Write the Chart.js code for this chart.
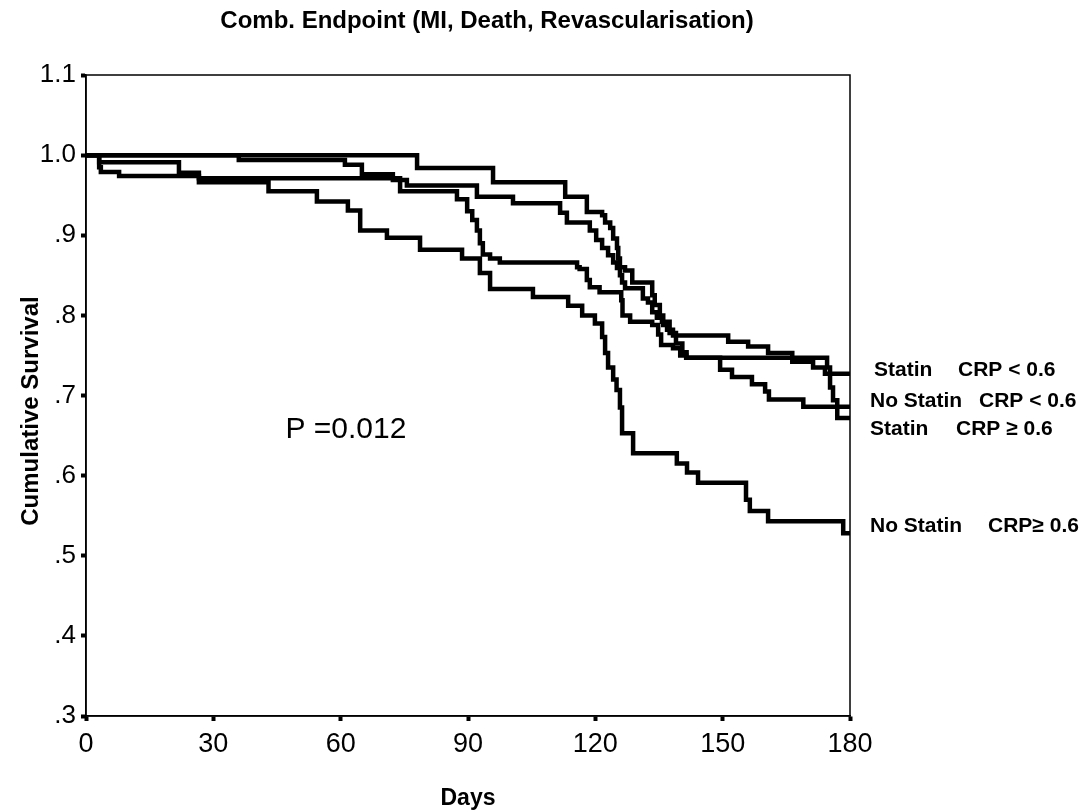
<!DOCTYPE html>
<html>
<head>
<meta charset="utf-8">
<script src="https://cdn.jsdelivr.net/npm/chart.js@4.4.1/dist/chart.umd.min.js"></script>
<style>
  html, body { margin: 0; padding: 0; background: #fff; }
  canvas { display: block; }
</style>
</head>
<body>
<canvas id="km" width="1089" height="812"></canvas>
<script>
// ── 데이터 (Kaplan-Meier 계단 곡선: 시점, 누적 생존율) ─────────────
const statinLowDays  = [0, 78, 95.9, 112.9, 118, 121.6, 122.3, 123.5, 124.2, 125.1, 125.4, 125.8, 127, 128.7, 133.4, 134, 135.2, 136, 136.9, 138.3, 151.3, 156, 160.7, 166.4, 171.3, 174.1, 180];
const statinLowSurv  = [1.0, 0.984, 0.966, 0.948, 0.929, 0.925, 0.916, 0.909, 0.896, 0.884, 0.871, 0.86, 0.856, 0.841, 0.825, 0.813, 0.80, 0.788, 0.782, 0.775, 0.767, 0.761, 0.753, 0.742, 0.735, 0.727, 0.727];

const statinHighDays = [0, 36, 61, 65, 72.3, 75.6, 92.1, 100.6, 111.7, 113.3, 118.7, 120.2, 121.6, 123, 124.2, 125.1, 125.8, 126.3, 127, 131.2, 132.4, 133.4, 134.5, 135.7, 137.5, 139, 140.5, 141.5, 174.6, 175.3, 176, 177, 180];
const statinHighSurv = [1.0, 0.994, 0.988, 0.976, 0.969, 0.962, 0.948, 0.94, 0.928, 0.916, 0.906, 0.894, 0.884, 0.875, 0.866, 0.859, 0.85, 0.841, 0.834, 0.821, 0.816, 0.804, 0.797, 0.792, 0.778, 0.765, 0.754, 0.747, 0.735, 0.71, 0.694, 0.672, 0.672];

const noStatinLowDays  = [0, 3.1, 21.9, 26.6, 74, 87.4, 89.8, 91, 92.1, 92.8, 93.5, 95.2, 97.5, 115.7, 116.3, 118, 118.7, 121, 126.1, 126.4, 128.2, 133.4, 134.8, 135.5, 138.3, 140, 141.4, 149.4, 152.2, 156.9, 160, 160.9, 169, 180];
const noStatinLowSurv  = [1.0, 0.991, 0.978, 0.971, 0.955, 0.945, 0.93, 0.919, 0.906, 0.89, 0.876, 0.871, 0.866, 0.86, 0.858, 0.844, 0.835, 0.829, 0.819, 0.80, 0.792, 0.788, 0.776, 0.763, 0.759, 0.75, 0.747, 0.732, 0.723, 0.714, 0.705, 0.695, 0.686, 0.686];

const noStatinHighDays = [0, 3.1, 3.5, 7.8, 26.6, 43, 54.4, 61.7, 64.6, 70.9, 78.7, 88.6, 92.8, 95.2, 105.3, 113.6, 116.9, 119.9, 121.6, 122.3, 123, 124.2, 125, 125.8, 126.3, 128.9, 139.2, 141.6, 144.2, 155.5, 156.4, 160.7, 178.4, 180];
const noStatinHighSurv = [1.0, 0.985, 0.979, 0.974, 0.966, 0.955, 0.942, 0.931, 0.906, 0.897, 0.882, 0.871, 0.853, 0.833, 0.823, 0.812, 0.80, 0.79, 0.773, 0.753, 0.735, 0.72, 0.707, 0.685, 0.653, 0.628, 0.615, 0.604, 0.591, 0.57, 0.556, 0.543, 0.528, 0.528];

const seriesNames  = ["Statin    CRP < 0.6", "Statin    CRP ≥ 0.6", "No Statin  CRP < 0.6", "No Statin   CRP≥ 0.6"];
const xTickValues  = [0, 30, 60, 90, 120, 150, 180];
const yTickLabels  = [".3", ".4", ".5", ".6", ".7", ".8", ".9", "1.0", "1.1"];
const pValueText   = "P =0.012";

// ── 렌더링 ────────────────────────────────────────────────────────
const toPoints = (xs, ys) => xs.map((d, i) => ({ x: d, y: ys[i] }));
const lineStyle = {
  borderColor: "#000", borderWidth: 4.5, pointRadius: 0, stepped: "before",
  fill: false, borderJoinStyle: "miter", borderCapStyle: "butt"
};

const SANS = "'Liberation Sans', Arial, sans-serif";

// 제목, 축 제목, P값, 곡선 라벨
const annotations = {
  id: "annotations",
  beforeDraw(chart) {
    const c = chart.ctx;
    c.save();
    c.fillStyle = "#fff";
    c.fillRect(0, 0, chart.width, chart.height);
    c.restore();
  },
  afterDraw(chart) {
    const c = chart.ctx, a = chart.chartArea;
    const xs = chart.scales.x, ys = chart.scales.y;
    c.save();
    c.strokeStyle = "#000";
    c.lineWidth = 1.5;
    c.strokeRect(a.left, a.top, a.right - a.left, a.bottom - a.top);

    c.fillStyle = "#000";
    c.textBaseline = "middle";

    c.font = "bold 24px " + SANS;
    c.textAlign = "center";
    c.fillText("Comb. Endpoint (MI, Death, Revascularisation)", 487, 21);

    c.font = "bold 23px " + SANS;
    c.fillText("Days", (a.left + a.right) / 2, 799);

    c.save();
    c.translate(31, 411);
    c.rotate(-Math.PI / 2);
    c.font = "bold 24px " + SANS;
    c.fillText("Cumulative Survival", 0, 0);
    c.restore();

    c.textAlign = "left";
    c.font = "30px " + SANS;
    c.fillText(pValueText, xs.getPixelForValue(47), ys.getPixelForValue(0.657));

    c.font = "bold 21px " + SANS;
    const labelRows = [
      ["Statin", "CRP < 0.6", 874, 958, 370],
      ["No Statin", "CRP < 0.6", 870, 979, 401],
      ["Statin", "CRP \u2265 0.6", 870, 956, 429],
      ["No Statin", "CRP\u2265 0.6", 870, 988, 526]
    ];
    labelRows.forEach(([a1, b1, x1, x2, y]) => {
      c.fillText(a1, x1, y);
      c.fillText(b1, x2, y);
    });
    c.restore();
  }
};

new Chart(document.getElementById("km").getContext("2d"), {
  type: "line",
  data: {
    datasets: [
      { label: seriesNames[0], data: toPoints(statinLowDays, statinLowSurv), ...lineStyle },
      { label: seriesNames[1], data: toPoints(statinHighDays, statinHighSurv), ...lineStyle },
      { label: seriesNames[2], data: toPoints(noStatinLowDays, noStatinLowSurv), ...lineStyle },
      { label: seriesNames[3], data: toPoints(noStatinHighDays, noStatinHighSurv), ...lineStyle }
    ]
  },
  options: {
    responsive: false, animation: false, devicePixelRatio: 1,
    layout: { padding: { left: 0, right: 239, top: 75, bottom: 0 } },
    plugins: { legend: { display: false }, tooltip: { enabled: false }, title: { display: false } },
    scales: {
      x: {
        type: "linear", min: 0, max: 180,
        afterBuildTicks: s => { s.ticks = xTickValues.map(v => ({ value: v })); },
        ticks: { color: "#000", font: { family: SANS, size: 27 }, padding: 7, maxRotation: 0,
                 callback: v => String(v) },
        grid: { drawOnChartArea: false, tickLength: 5, tickWidth: 4, tickColor: "#000" },
        border: { display: true, color: "#000", width: 1.5 },
        afterFit: s => { s.height = 96; }
      },
      y: {
        type: "linear", min: 0.3, max: 1.1,
        ticks: { stepSize: 0.1, color: "#000", font: { family: SANS, size: 26 }, padding: 5,
                 callback: (v, i) => yTickLabels[i] },
        grid: { drawOnChartArea: false, tickLength: 5, tickWidth: 4, tickColor: "#000" },
        border: { display: true, color: "#000", width: 1.5 },
        afterFit: s => { s.width = 86; }
      }
    }
  },
  plugins: [annotations]
});
</script>
</body>
</html>
